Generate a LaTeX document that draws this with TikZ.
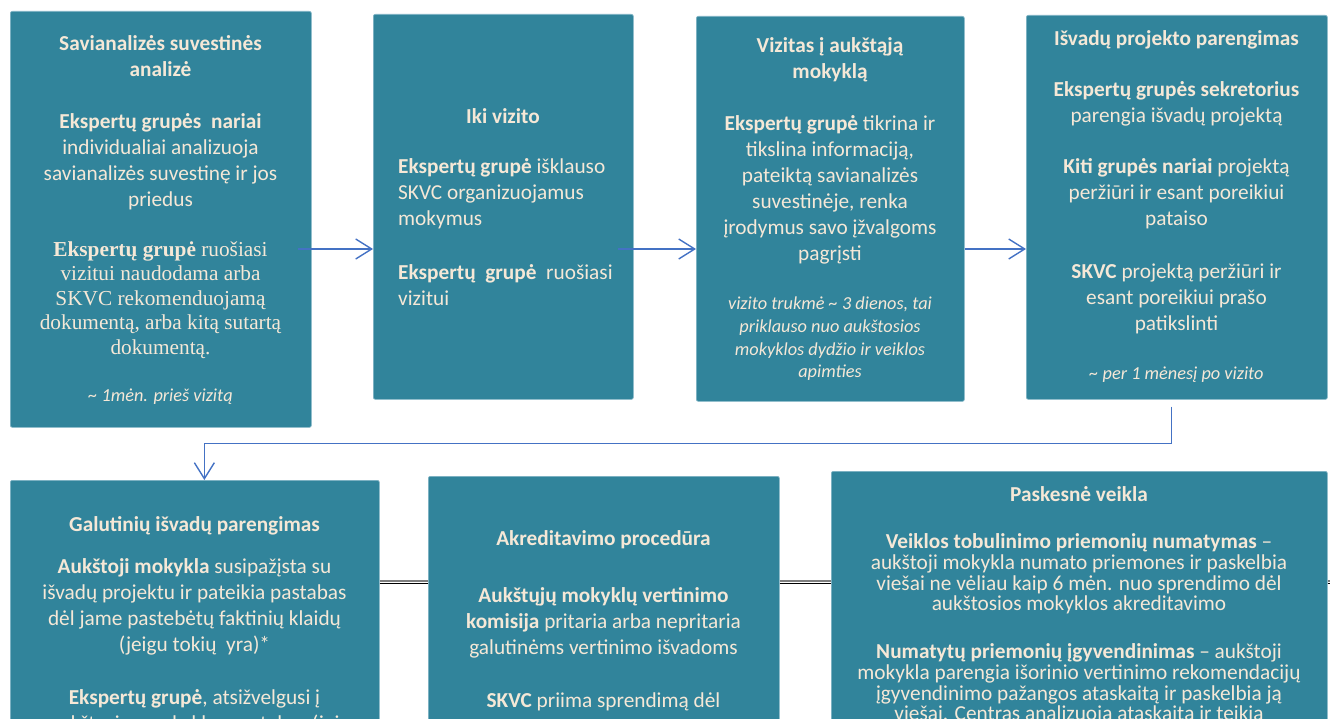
\documentclass[tikz,border=0pt]{standalone}
\usepackage{fontspec}
\setmainfont{Carlito}
\newfontfamily\serifTNR{Liberation Serif}
\usetikzlibrary{arrows.meta,calc}
\definecolor{boxteal}{HTML}{31849B}
\definecolor{boxedge}{HTML}{7FB3C4}
\definecolor{cream}{RGB}{245,232,215}
\definecolor{arrblue}{HTML}{4472C4}
\definecolor{dlgray}{HTML}{7F7F7F}
\begin{document}
\begin{tikzpicture}[x=1pt,y=-1pt,
  box/.style={draw=boxedge, line width=0.7pt, fill=boxteal, rounded corners=2pt, inner sep=0pt, anchor=north west},
  txt/.style={text=cream, align=center, inner sep=0pt, font=\fontsize{21.3}{26}\selectfont},
  ttl/.style={txt, font=\bfseries\fontsize{21.3}{26}\selectfont},
  note/.style={txt, font=\itshape\fontsize{18.3}{22.7}\selectfont},
  ser/.style={txt, font=\serifTNR\fontsize{21.3}{24.5}\selectfont},
  tight/.style={txt, font=\fontsize{21.3}{20.7}\selectfont},
  arr/.style={draw=arrblue, line width=1.4pt, -{Straight Barb[length=16pt,width=20pt]}},
  dlg/.style={draw=dlgray, line width=1.3pt},
  dlb/.style={draw=black, line width=1.3pt}]
\useasboundingbox (0,0) rectangle (1330,719);
\clip (0,0) rectangle (1330,719);

% boxes
\node[box, minimum width=301pt, minimum height=416pt] (b1) at (10,11) {};
\node[box, minimum width=260pt, minimum height=385pt] (b2) at (373,14) {};
\node[box, minimum width=268pt, minimum height=385pt] (b3) at (696,16) {};
\node[box, minimum width=301pt, minimum height=384pt] (b4) at (1026,15) {};
\node[box, minimum width=369pt, minimum height=270pt] (b5) at (10,480) {};
\node[box, minimum width=351pt, minimum height=274pt] (b6) at (428,476) {};
\node[box, minimum width=496pt, minimum height=279pt] (b7) at (831,471) {};

% connectors
\coordinate (ar) at (0,249);
\draw[arr, shorten <=-14pt] (b1.east |- ar) -- (b2.west |- ar);
\draw[arr, shorten <=-16pt] (b2.east |- ar) -- (b3.west |- ar);
\draw[arr] (b3.east |- ar) -- (b4.west |- ar);
\draw[arr, shorten <=7pt] ($(b4.south)+(-5.5,0)$) -- ($(b4.south)+(-5.5,44)$) -| ($(b5.north)+(9.5,0)$);

\coordinate (hl1) at (0,581);
\coordinate (hl2) at (0,583.5);
\coordinate (edge) at (1330,0);
\draw[dlg] (b5.east |- hl1) -- (b6.west |- hl1) (b6.east |- hl1) -- (b7.west |- hl1) (b7.east |- hl1) -- (edge |- hl1);
\draw[dlb] (b5.east |- hl2) -- (b6.west |- hl2) (b6.east |- hl2) -- (b7.west |- hl2) (b7.east |- hl2) -- (edge |- hl2);

% box 1
\node[ttl] (t1) at (160.5,56) {Savianalizės suvestinės\\analizė};
\node[txt] (p1a) at (160.5,161.5) {\textbf{Ekspertų grupės\ \ nariai}\\individualiai analizuoja\\savianalizės suvestinę ir jos\\priedus};
\node[ser] (p1b) at (160.5,300) {\textbf{Ekspertų grupė} ruošiasi\\vizitui naudodama arba\\SKVC rekomenduojamą\\dokumentą, arba kitą sutartą\\dokumentą.};
\node[note] (n1) at (160.5,397) {\textasciitilde{} 1mėn. prieš vizitą};

% box 2
\node[ttl] (t2) at (503,116) {Iki vizito};
\node[txt, align=left, anchor=west] (p2a) at (398,194) {\textbf{Ekspertų grupė} išklauso\\SKVC organizuojamus\\mokymus};
\node[txt, align=left, anchor=west] (p2b) at (398,285.5) {\textbf{Ekspertų\ \ grupė}\ \ ruošiasi\\vizitui};

% box 3
\node[ttl] (t3) at (830,60) {Vizitas į aukštąją\\mokyklą};
\node[txt] (p3) at (830,190) {\textbf{Ekspertų grupė} tikrina ir\\tikslina informaciją,\\pateiktą savianalizės\\suvestinėje, renka\\įrodymus savo įžvalgoms\\pagrįsti};
\node[note] (n3) at (830,339) {vizito trukmė \textasciitilde{} 3 dienos, tai\\priklauso nuo aukštosios\\mokyklos dydžio ir veiklos\\apimties};

% box 4
\node[ttl] (t4) at (1176.5,40) {Išvadų projekto parengimas};
\node[txt] (p4a) at (1176.5,104) {\textbf{Ekspertų grupės sekretorius}\\parengia išvadų projektą};
\node[txt] (p4b) at (1176.5,194) {\textbf{Kiti grupės nariai} projektą\\peržiūri ir esant poreikiui\\pataiso};
\node[txt] (p4c) at (1176.5,298.5) {\textbf{SKVC} projektą peržiūri ir\\esant poreikiui prašo\\patikslinti};
\node[note] (n4) at (1176.5,375) {\textasciitilde{} per 1 mėnesį po vizito};

% box 5
\node[ttl] (t5) at (194.5,526) {Galutinių išvadų parengimas};
\node[txt] (p5a) at (194.5,607) {\textbf{Aukštoji mokykla} susipažįsta su\\išvadų projektu ir pateikia pastabas\\dėl jame pastebėtų faktinių klaidų\\(jeigu tokių\ \ yra)*};
\node[txt] (p5b) at (194.5,712) {\textbf{Ekspertų grupė}, atsižvelgusi į\\aukštosios mokyklos pastabas (jei};

% box 6
\node[ttl] (t6) at (603.5,540) {Akreditavimo procedūra};
\node[txt] (p6a) at (603.5,622.5) {\textbf{Aukštųjų mokyklų vertinimo}\\\textbf{komisija} pritaria arba nepritaria\\galutinėms vertinimo išvadoms};
\node[txt] (p6b) at (603.5,702) {\textbf{SKVC} priima sprendimą dėl};

% box 7
\node[ttl] (t7) at (1079,494) {Paskesnė veikla};
\node[tight] (p7a) at (1079,574) {\textbf{Veiklos tobulinimo priemonių numatymas} –\\aukštoji mokykla numato priemones ir paskelbia\\viešai ne vėliau kaip 6 mėn. nuo sprendimo dėl\\aukštosios mokyklos akreditavimo};
\node[tight] (p7b) at (1079,684) {\textbf{Numatytų priemonių įgyvendinimas} – aukštoji\\mokykla parengia išorinio vertinimo rekomendacijų\\įgyvendinimo pažangos ataskaitą ir paskelbia ją\\viešai. Centras analizuoja ataskaitą ir teikia};
\end{tikzpicture}
\end{document}
